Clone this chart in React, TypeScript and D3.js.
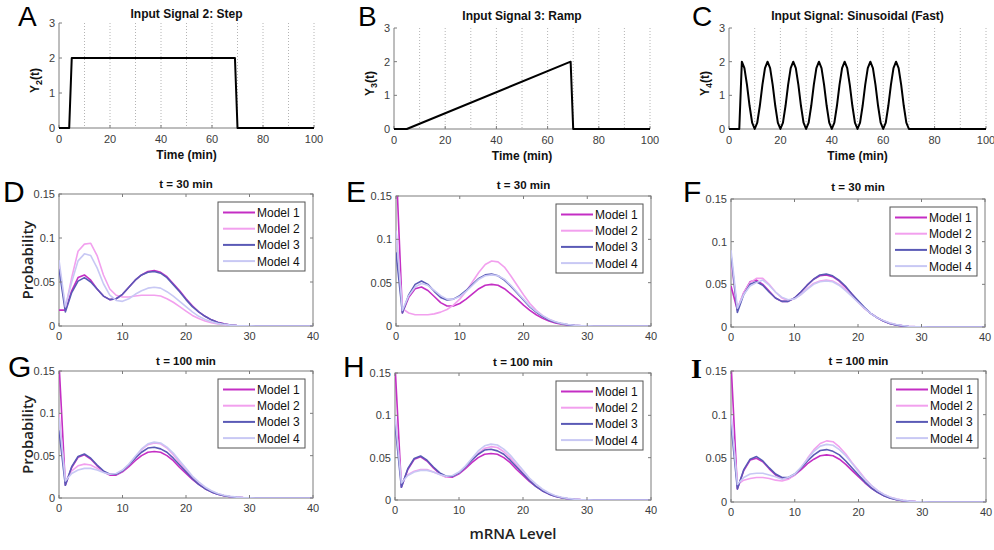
import React from 'react';
import * as d3 from 'd3';

// ---------- Input signals (top row) ----------
const signalTimeTicks = [0, 20, 40, 60, 80, 100];
const signalGridTimes = [10, 20, 30, 40, 50, 60, 70, 80, 90, 100];
const signalYTicks = [0, 1, 2, 3];

const stepTime = [0, 4, 5, 69, 70, 100];
const stepValue = [0, 0, 2, 2, 0, 0];

const rampTime = [0, 5, 69, 70, 100];
const rampValue = [0, 0, 2, 0, 0];

// sinusoid sampled each minute, t = 0..100
const sineValue = [
  0, 0, 0, 0, 0,
  2, 1.81, 1.31, 0.69, 0.19, 0, 0.19, 0.69, 1.31, 1.81,
  2, 1.81, 1.31, 0.69, 0.19, 0, 0.19, 0.69, 1.31, 1.81,
  2, 1.81, 1.31, 0.69, 0.19, 0, 0.19, 0.69, 1.31, 1.81,
  2, 1.81, 1.31, 0.69, 0.19, 0, 0.19, 0.69, 1.31, 1.81,
  2, 1.81, 1.31, 0.69, 0.19, 0, 0.19, 0.69, 1.31, 1.81,
  2, 1.81, 1.31, 0.69, 0.19, 0, 0.19, 0.69, 1.31, 1.81,
  2, 1.81, 1.31, 0.69, 0.19, 0,
  0, 0, 0, 0, 0, 0, 0, 0, 0, 0,
  0, 0, 0, 0, 0, 0, 0, 0, 0, 0,
  0, 0, 0, 0, 0, 0, 0, 0, 0, 0,
];
const sineTime = sineValue.map((_, i) => i);

// ---------- mRNA distributions ----------
const mrnaTicks = [0, 10, 20, 30, 40];
const probTicks = [0, 0.05, 0.1, 0.15];
const probTickLabels = ['0', '0.05', '0.1', '0.15'];
const modelNames = ['Model 1', 'Model 2', 'Model 3', 'Model 4'];
const modelColors = ['#c42ec4', '#f2a0ee', '#5a5ab6', '#c8c8f4'];

// D: step, t = 30
const stepT30M1 = [0.018, 0.018, 0.040, 0.055, 0.058, 0.052, 0.042, 0.034, 0.030, 0.031, 0.036, 0.044, 0.052, 0.058, 0.062, 0.063, 0.061, 0.056, 0.048, 0.040, 0.031, 0.023, 0.016, 0.011, 0.007, 0.0042, 0.0024, 0.0012, 0.0006, 0.0003, 0.0001, 0, 0, 0, 0, 0, 0, 0, 0, 0, 0];
const stepT30M2 = [0.070, 0.020, 0.055, 0.085, 0.093, 0.094, 0.080, 0.058, 0.042, 0.035, 0.033, 0.033, 0.034, 0.035, 0.035, 0.035, 0.034, 0.031, 0.027, 0.022, 0.017, 0.012, 0.0085, 0.0058, 0.0038, 0.0024, 0.0014, 0.0008, 0.0004, 0.0002, 0.0001, 0, 0, 0, 0, 0, 0, 0, 0, 0, 0];
const stepT30M3 = [0.065, 0.016, 0.038, 0.051, 0.055, 0.050, 0.042, 0.034, 0.030, 0.031, 0.036, 0.044, 0.052, 0.058, 0.061, 0.062, 0.060, 0.055, 0.047, 0.039, 0.030, 0.022, 0.016, 0.011, 0.007, 0.004, 0.0023, 0.0012, 0.0006, 0.0003, 0.0001, 0, 0, 0, 0, 0, 0, 0, 0, 0, 0];
const stepT30M4 = [0.075, 0.022, 0.050, 0.074, 0.082, 0.080, 0.066, 0.048, 0.035, 0.029, 0.028, 0.031, 0.036, 0.040, 0.043, 0.044, 0.043, 0.039, 0.034, 0.028, 0.022, 0.016, 0.011, 0.0075, 0.0048, 0.003, 0.0018, 0.001, 0.0005, 0.0002, 0.0001, 0, 0, 0, 0, 0, 0, 0, 0, 0, 0];

// E: ramp, t = 30
const rampT30M1 = [0.19, 0.015, 0.033, 0.043, 0.045, 0.041, 0.034, 0.027, 0.023, 0.023, 0.026, 0.031, 0.037, 0.043, 0.047, 0.048, 0.047, 0.043, 0.037, 0.031, 0.024, 0.018, 0.013, 0.0088, 0.0057, 0.0035, 0.002, 0.0011, 0.0006, 0.0003, 0.0001, 0, 0, 0, 0, 0, 0, 0, 0, 0, 0];
const rampT30M2 = [0.11, 0.020, 0.015, 0.013, 0.013, 0.013, 0.014, 0.016, 0.019, 0.024, 0.031, 0.040, 0.051, 0.062, 0.071, 0.075, 0.074, 0.068, 0.058, 0.047, 0.036, 0.026, 0.018, 0.012, 0.0077, 0.0047, 0.0027, 0.0015, 0.0008, 0.0004, 0.0002, 0, 0, 0, 0, 0, 0, 0, 0, 0, 0];
const rampT30M3 = [0.085, 0.015, 0.036, 0.048, 0.052, 0.048, 0.040, 0.033, 0.030, 0.031, 0.035, 0.041, 0.048, 0.055, 0.059, 0.060, 0.058, 0.053, 0.046, 0.038, 0.030, 0.022, 0.016, 0.011, 0.007, 0.0043, 0.0025, 0.0013, 0.0007, 0.0003, 0.0001, 0, 0, 0, 0, 0, 0, 0, 0, 0, 0];
const rampT30M4 = [0.11, 0.018, 0.035, 0.045, 0.049, 0.047, 0.041, 0.035, 0.031, 0.031, 0.034, 0.040, 0.047, 0.054, 0.058, 0.059, 0.058, 0.054, 0.047, 0.039, 0.031, 0.023, 0.017, 0.012, 0.0078, 0.0049, 0.003, 0.0017, 0.0009, 0.0004, 0.0002, 0, 0, 0, 0, 0, 0, 0, 0, 0, 0];

// F: sinusoid, t = 30
const sineT30M1 = [0.048, 0.020, 0.040, 0.053, 0.055, 0.050, 0.042, 0.034, 0.030, 0.030, 0.034, 0.041, 0.049, 0.056, 0.060, 0.061, 0.059, 0.054, 0.047, 0.039, 0.030, 0.022, 0.016, 0.011, 0.007, 0.0042, 0.0024, 0.0013, 0.0006, 0.0003, 0.0001, 0, 0, 0, 0, 0, 0, 0, 0, 0, 0];
const sineT30M2 = [0.075, 0.022, 0.040, 0.052, 0.057, 0.057, 0.050, 0.041, 0.034, 0.031, 0.033, 0.038, 0.045, 0.051, 0.054, 0.055, 0.054, 0.050, 0.044, 0.037, 0.029, 0.022, 0.016, 0.011, 0.0073, 0.0046, 0.0028, 0.0016, 0.0008, 0.0004, 0.0002, 0, 0, 0, 0, 0, 0, 0, 0, 0, 0];
const sineT30M3 = [0.085, 0.017, 0.038, 0.050, 0.053, 0.049, 0.041, 0.034, 0.030, 0.030, 0.034, 0.041, 0.049, 0.056, 0.061, 0.062, 0.060, 0.055, 0.048, 0.039, 0.031, 0.023, 0.016, 0.011, 0.007, 0.0042, 0.0024, 0.0013, 0.0006, 0.0003, 0.0001, 0, 0, 0, 0, 0, 0, 0, 0, 0, 0];
const sineT30M4 = [0.090, 0.022, 0.038, 0.048, 0.052, 0.055, 0.049, 0.041, 0.035, 0.032, 0.033, 0.038, 0.044, 0.050, 0.053, 0.054, 0.053, 0.049, 0.043, 0.036, 0.029, 0.022, 0.016, 0.011, 0.0075, 0.0048, 0.003, 0.0017, 0.0009, 0.0004, 0.0002, 0, 0, 0, 0, 0, 0, 0, 0, 0, 0];

// G: step, t = 100
const stepT100M1 = [0.16, 0.015, 0.036, 0.048, 0.051, 0.046, 0.038, 0.031, 0.027, 0.027, 0.031, 0.037, 0.044, 0.050, 0.054, 0.055, 0.054, 0.050, 0.044, 0.036, 0.029, 0.022, 0.016, 0.011, 0.0072, 0.0045, 0.0027, 0.0015, 0.0008, 0.0004, 0.0002, 0, 0, 0, 0, 0, 0, 0, 0, 0, 0];
const stepT100M2 = [0.10, 0.020, 0.032, 0.038, 0.040, 0.039, 0.035, 0.031, 0.028, 0.028, 0.032, 0.039, 0.048, 0.057, 0.063, 0.065, 0.064, 0.059, 0.051, 0.042, 0.033, 0.025, 0.018, 0.012, 0.008, 0.005, 0.003, 0.0017, 0.0009, 0.0004, 0.0002, 0, 0, 0, 0, 0, 0, 0, 0, 0, 0];
const stepT100M3 = [0.080, 0.015, 0.037, 0.049, 0.052, 0.047, 0.039, 0.032, 0.028, 0.028, 0.032, 0.039, 0.047, 0.054, 0.059, 0.060, 0.058, 0.054, 0.047, 0.039, 0.031, 0.023, 0.016, 0.011, 0.0072, 0.0044, 0.0026, 0.0014, 0.0007, 0.0003, 0.0001, 0, 0, 0, 0, 0, 0, 0, 0, 0, 0];
const stepT100M4 = [0.095, 0.020, 0.029, 0.033, 0.035, 0.035, 0.033, 0.030, 0.028, 0.029, 0.033, 0.040, 0.049, 0.058, 0.064, 0.066, 0.065, 0.060, 0.053, 0.044, 0.035, 0.026, 0.019, 0.013, 0.0086, 0.0054, 0.0033, 0.0019, 0.001, 0.0005, 0.0002, 0, 0, 0, 0, 0, 0, 0, 0, 0, 0];

// H: ramp, t = 100
const rampT100M1 = [0.16, 0.015, 0.036, 0.048, 0.051, 0.046, 0.038, 0.031, 0.027, 0.027, 0.031, 0.037, 0.044, 0.050, 0.054, 0.055, 0.054, 0.050, 0.044, 0.036, 0.029, 0.022, 0.016, 0.011, 0.0072, 0.0045, 0.0027, 0.0015, 0.0008, 0.0004, 0.0002, 0, 0, 0, 0, 0, 0, 0, 0, 0, 0];
const rampT100M2 = [0.10, 0.020, 0.030, 0.034, 0.036, 0.036, 0.033, 0.030, 0.027, 0.028, 0.032, 0.039, 0.047, 0.055, 0.061, 0.063, 0.062, 0.057, 0.050, 0.041, 0.032, 0.024, 0.017, 0.012, 0.0078, 0.0048, 0.0029, 0.0016, 0.0009, 0.0004, 0.0002, 0, 0, 0, 0, 0, 0, 0, 0, 0, 0];
const rampT100M3 = [0.090, 0.015, 0.037, 0.049, 0.052, 0.047, 0.039, 0.032, 0.028, 0.028, 0.032, 0.039, 0.047, 0.054, 0.059, 0.060, 0.058, 0.054, 0.047, 0.039, 0.031, 0.023, 0.016, 0.011, 0.0072, 0.0044, 0.0026, 0.0014, 0.0007, 0.0003, 0.0001, 0, 0, 0, 0, 0, 0, 0, 0, 0, 0];
const rampT100M4 = [0.10, 0.020, 0.029, 0.033, 0.035, 0.035, 0.033, 0.030, 0.028, 0.029, 0.033, 0.040, 0.049, 0.058, 0.064, 0.066, 0.065, 0.060, 0.053, 0.044, 0.035, 0.026, 0.019, 0.013, 0.0086, 0.0054, 0.0033, 0.0019, 0.001, 0.0005, 0.0002, 0, 0, 0, 0, 0, 0, 0, 0, 0, 0];

// I: sinusoid, t = 100
const sineT100M1 = [0.16, 0.015, 0.036, 0.048, 0.050, 0.046, 0.038, 0.031, 0.027, 0.027, 0.031, 0.037, 0.044, 0.049, 0.053, 0.054, 0.053, 0.049, 0.043, 0.036, 0.029, 0.022, 0.016, 0.011, 0.0072, 0.0045, 0.0027, 0.0015, 0.0008, 0.0004, 0.0002, 0, 0, 0, 0, 0, 0, 0, 0, 0, 0];
const sineT100M2 = [0.10, 0.020, 0.025, 0.027, 0.028, 0.028, 0.027, 0.025, 0.024, 0.026, 0.031, 0.039, 0.050, 0.060, 0.067, 0.070, 0.069, 0.063, 0.055, 0.045, 0.036, 0.027, 0.019, 0.013, 0.0086, 0.0054, 0.0033, 0.0019, 0.001, 0.0005, 0.0002, 0, 0, 0, 0, 0, 0, 0, 0, 0, 0];
const sineT100M3 = [0.090, 0.015, 0.037, 0.049, 0.052, 0.047, 0.039, 0.032, 0.028, 0.028, 0.032, 0.039, 0.047, 0.054, 0.059, 0.060, 0.058, 0.054, 0.047, 0.039, 0.031, 0.023, 0.016, 0.011, 0.0072, 0.0044, 0.0026, 0.0014, 0.0007, 0.0003, 0.0001, 0, 0, 0, 0, 0, 0, 0, 0, 0, 0];
const sineT100M4 = [0.10, 0.020, 0.028, 0.032, 0.033, 0.033, 0.031, 0.029, 0.026, 0.028, 0.032, 0.040, 0.049, 0.058, 0.064, 0.066, 0.065, 0.060, 0.053, 0.044, 0.035, 0.026, 0.019, 0.013, 0.0086, 0.0054, 0.0033, 0.0019, 0.001, 0.0005, 0.0002, 0, 0, 0, 0, 0, 0, 0, 0, 0, 0];

// ---------- Layout ----------
const SANS = '"Liberation Sans", Arial, Helvetica, sans-serif';
const TICK_COLOR = '#3c3c3c';
const AXIS_COLOR = '#7c7c7c';

const signalPanels = [
  { letter: 'A', lx: 18, ly: 26, title: 'Input Signal 2: Step', titleY: 18, sub: '2', x0: 59, x1: 314, yt: 23, yb: 128, time: stepTime, value: stepValue },
  { letter: 'B', lx: 358, ly: 26, title: 'Input Signal 3: Ramp', titleY: 20, sub: '3', x0: 394, x1: 650, yt: 28, yb: 129, time: rampTime, value: rampValue },
  { letter: 'C', lx: 692, ly: 26, title: 'Input Signal: Sinusoidal (Fast)', titleY: 20, sub: '4', x0: 729, x1: 986, yt: 28, yb: 129, time: sineTime, value: sineValue },
];

const distPanels = [
  { id: 'D', letter: 'D', lx: 3, ly: 202, title: 't = 30 min', titleY: 188, x0: 59, x1: 313, yt: 194, yb: 326, ylabel: true, series: [stepT30M1, stepT30M2, stepT30M3, stepT30M4] },
  { id: 'E', letter: 'E', lx: 346, ly: 202, title: 't = 30 min', titleY: 189, x0: 396, x1: 651, yt: 196, yb: 326, ylabel: false, series: [rampT30M1, rampT30M2, rampT30M3, rampT30M4] },
  { id: 'F', letter: 'F', lx: 683, ly: 202, title: 't = 30 min', titleY: 191, x0: 731, x1: 985, yt: 199, yb: 327, ylabel: false, series: [sineT30M1, sineT30M2, sineT30M3, sineT30M4] },
  { id: 'G', letter: 'G', lx: 8, ly: 377, title: 't = 100 min', titleY: 365, x0: 59, x1: 313, yt: 371, yb: 498, ylabel: true, series: [stepT100M1, stepT100M2, stepT100M3, stepT100M4] },
  { id: 'H', letter: 'H', lx: 343, ly: 377, title: 't = 100 min', titleY: 366, x0: 395, x1: 651, yt: 373, yb: 500, ylabel: false, series: [rampT100M1, rampT100M2, rampT100M3, rampT100M4] },
  { id: 'I', letter: 'I', lx: 691, ly: 378, title: 't = 100 min', titleY: 365, x0: 731, x1: 986, yt: 371, yb: 502, ylabel: false, series: [sineT100M1, sineT100M2, sineT100M3, sineT100M4] },
];

function SignalPanel({ p }: { p: any }) {
  const x = d3.scaleLinear().domain([0, 100]).range([p.x0, p.x1]);
  const y = d3.scaleLinear().domain([0, 3]).range([p.yb, p.yt]);
  const pts: [number, number][] = p.time.map((t: number, i: number) => [t, p.value[i]]);
  const path = d3.line<[number, number]>().x(d => x(d[0])).y(d => y(d[1]))(pts) || '';
  const cx = (p.x0 + p.x1) / 2;
  const cy = (p.yt + p.yb) / 2 + 5;
  return (
    <g>
      {signalGridTimes.map(t => (
        <line key={'g' + t} x1={x(t)} x2={x(t)} y1={p.yt} y2={p.yb} stroke="#b4b4b4" strokeWidth={1} strokeDasharray="1,2" />
      ))}
      <line x1={p.x0} x2={p.x0} y1={p.yt} y2={p.yb} stroke={AXIS_COLOR} strokeWidth={1} />
      <line x1={p.x0} x2={p.x1} y1={p.yb} y2={p.yb} stroke={AXIS_COLOR} strokeWidth={1} />
      {signalYTicks.map(v => (
        <g key={'y' + v}>
          <line x1={p.x0} x2={p.x0 + 3} y1={y(v)} y2={y(v)} stroke={AXIS_COLOR} />
          <text x={p.x0 - 4} y={y(v) + 4} textAnchor="end" fontSize={11} fill={TICK_COLOR} fontFamily={SANS}>{v}</text>
        </g>
      ))}
      {signalTimeTicks.map(v => (
        <g key={'x' + v}>
          <line x1={x(v)} x2={x(v)} y1={p.yb} y2={p.yb - 3} stroke={AXIS_COLOR} />
          <text x={x(v)} y={p.yb + 15} textAnchor="middle" fontSize={11} fill={TICK_COLOR} fontFamily={SANS}>{v}</text>
        </g>
      ))}
      <path d={path} fill="none" stroke="#000" strokeWidth={2} strokeLinejoin="round" />
      <text x={cx} y={p.titleY} textAnchor="middle" fontSize={12} fontWeight="bold" fontFamily={SANS} fill="#111">{p.title}</text>
      <text x={cx} y={p.yb + 31} textAnchor="middle" fontSize={12} fontWeight="bold" fontFamily={SANS} fill="#111">Time (min)</text>
      <text transform={`translate(${p.x0 - 20},${cy}) rotate(-90)`} textAnchor="middle" fontSize={12} fontWeight="bold" fontFamily={SANS} fill="#111">
        Y<tspan fontSize={9} dy={3}>{p.sub}</tspan><tspan dy={-3}>(t)</tspan>
      </text>
      <text x={p.lx} y={p.ly} fontSize={28} fontFamily={SANS} fill="#000">{p.letter}</text>
    </g>
  );
}

function DistPanel({ p }: { p: any }) {
  const x = d3.scaleLinear().domain([0, 40]).range([p.x0, p.x1]);
  const y = d3.scaleLinear().domain([0, 0.15]).range([p.yb, p.yt]);
  const line = d3.line<number>().x((_, i) => x(i)).y(d => y(d));
  const clipId = 'clip' + p.id;
  const cx = (p.x0 + p.x1) / 2;
  const legW = 87;
  const legH = 69;
  const legR = p.x1 - 8;
  const legL = legR - legW;
  const legT = p.yt + 8;
  return (
    <g>
      <defs>
        <clipPath id={clipId}>
          <rect x={p.x0} y={p.yt} width={p.x1 - p.x0} height={p.yb - p.yt} />
        </clipPath>
      </defs>
      <rect x={p.x0} y={p.yt} width={p.x1 - p.x0} height={p.yb - p.yt} fill="#fff" stroke={AXIS_COLOR} strokeWidth={1} />
      <g clipPath={`url(#${clipId})`}>
        {p.series.map((s: number[], k: number) => (
          <path key={k} d={line(s) || ''} fill="none" stroke={modelColors[k]} strokeWidth={1.6} strokeLinejoin="round" />
        ))}
      </g>
      {probTicks.map((v, i) => (
        <g key={'y' + v}>
          <line x1={p.x0} x2={p.x0 + 3} y1={y(v)} y2={y(v)} stroke={AXIS_COLOR} />
          <line x1={p.x1} x2={p.x1 - 3} y1={y(v)} y2={y(v)} stroke={AXIS_COLOR} />
          <text x={p.x0 - 4} y={y(v) + 4} textAnchor="end" fontSize={11} fill={TICK_COLOR} fontFamily={SANS}>{probTickLabels[i]}</text>
        </g>
      ))}
      {mrnaTicks.map(v => (
        <g key={'x' + v}>
          <line x1={x(v)} x2={x(v)} y1={p.yb} y2={p.yb - 3} stroke={AXIS_COLOR} />
          <line x1={x(v)} x2={x(v)} y1={p.yt} y2={p.yt + 3} stroke={AXIS_COLOR} />
          <text x={x(v)} y={p.yb + 14} textAnchor="middle" fontSize={11} fill={TICK_COLOR} fontFamily={SANS}>{v}</text>
        </g>
      ))}
      <rect x={legL} y={legT} width={legW} height={legH} fill="#fff" stroke="#555" strokeWidth={1} />
      {modelNames.map((name, k) => {
        const ly = legT + 10.5 + k * 16.2;
        return (
          <g key={name}>
            <line x1={legL + 5} x2={legL + 37} y1={ly} y2={ly} stroke={modelColors[k]} strokeWidth={2} />
            <text x={legL + 39} y={ly + 4.5} fontSize={12} fill="#111" fontFamily={SANS}>{name}</text>
          </g>
        );
      })}
      <text x={cx} y={p.titleY} textAnchor="middle" fontSize={11.5} fontWeight="bold" fontFamily={SANS} fill="#111">{p.title}</text>
      {p.ylabel && (
        <text transform={`translate(33,${(p.yt + p.yb) / 2}) rotate(-90)`} textAnchor="middle" fontSize={15} fontWeight={600} fontFamily='"Open Sans", "DejaVu Sans", sans-serif' fill="#222">Probability</text>
      )}
      {p.letter === 'I' ? (
        <text x={p.lx} y={p.ly} fontSize={28} fontWeight="bold" fontFamily='"Liberation Serif", "DejaVu Serif", serif' fill="#000">I</text>
      ) : (
        <text x={p.lx} y={p.ly} fontSize={30} fontFamily={SANS} fill="#000">{p.letter}</text>
      )}
    </g>
  );
}

export default function App() {
  return (
    <svg width={994} height={550} viewBox="0 0 994 550" style={{ position: 'absolute', left: 0, top: 0, background: '#fff' }}>
      <rect x={0} y={0} width={994} height={550} fill="#fff" />
      {signalPanels.map(p => <SignalPanel key={p.letter} p={p} />)}
      {distPanels.map(p => <DistPanel key={p.id} p={p} />)}
      <text x={513} y={539} textAnchor="middle" fontSize={15} fontWeight={600} fontFamily='"Open Sans", "DejaVu Sans", sans-serif' fill="#222">mRNA Level</text>
    </svg>
  );
}
